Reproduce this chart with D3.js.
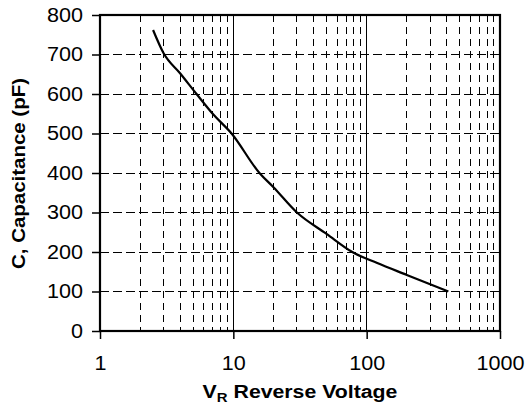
<!DOCTYPE html>
<html><head><meta charset="utf-8">
<script src="https://cdn.jsdelivr.net/npm/d3@7"></script>
<style>
html,body{margin:0;padding:0;background:#fff;}
svg text{font-family:"Liberation Sans",Arial,sans-serif;fill:#000;}
</style></head>
<body><svg id="c" width="527" height="406"></svg>
<script>
const voltage = [2.5, 3, 4, 5.3, 7, 9.7, 15.7, 20, 30, 50, 78, 120, 200, 410];
const capacitance = [762, 703, 652, 600, 550, 500, 400, 364, 300, 246, 200, 172, 142, 100];
const xTicks = [1, 10, 100, 1000];
const yTicks = [0, 100, 200, 300, 400, 500, 600, 700, 800];
const xTitle = "Reverse Voltage";
const yTitle = "C, Capacitance (pF)";

const L = 100, R = 500, T = 15, B = 331;
const svg = d3.select("#c");
const x = d3.scaleLog().domain([1, 1000]).range([L, R]);
const y = d3.scaleLinear().domain([0, 800]).range([B, T]);

// minor vertical dashed gridlines
const minors = [];
[1, 10, 100].forEach(d => { for (let k = 2; k <= 9; k++) minors.push(d * k); });
svg.append("g").selectAll("line").data(minors).join("line")
  .attr("x1", d => x(d)).attr("x2", d => x(d)).attr("y1", T).attr("y2", B)
  .attr("stroke", "#000").attr("stroke-width", 1).attr("stroke-dasharray", "7,5")
  .attr("shape-rendering", "crispEdges");
// major vertical solid gridlines
svg.append("g").selectAll("line").data([10, 100]).join("line")
  .attr("x1", d => x(d)).attr("x2", d => x(d)).attr("y1", T).attr("y2", B)
  .attr("stroke", "#000").attr("stroke-width", 1).attr("shape-rendering", "crispEdges");
// horizontal dashed gridlines
svg.append("g").selectAll("line").data(yTicks.filter(d => d > 0 && d < 800)).join("line")
  .attr("x1", L).attr("x2", R).attr("y1", d => y(d)).attr("y2", d => y(d))
  .attr("stroke", "#000").attr("stroke-width", 1).attr("stroke-dasharray", "9,4")
  .attr("shape-rendering", "crispEdges");

// axes
const yAxis = d3.axisLeft(y).tickValues(yTicks).tickSize(8).tickPadding(9).tickFormat(d3.format("d"));
const gy = svg.append("g").attr("transform", `translate(${L},0)`).call(yAxis);
gy.select(".domain").remove();
gy.selectAll("line").attr("stroke", "#000").attr("stroke-width", 1.5);
gy.selectAll("text").attr("font-size", "19.5px").attr("dy", "0.33em")
  .attr("textLength", d => String(d).length * 12).attr("lengthAdjust", "spacingAndGlyphs");

const xAxis = d3.axisBottom(x).tickValues(xTicks).tickSize(8).tickPadding(17).tickFormat(d3.format("d"));
const gx = svg.append("g").attr("transform", `translate(0,${B})`).call(xAxis);
gx.select(".domain").remove();
gx.selectAll("line").attr("stroke", "#000").attr("stroke-width", 1.5);
gx.selectAll("text").attr("font-size", "19.5px")
  .attr("textLength", d => String(d).length * 12).attr("lengthAdjust", "spacingAndGlyphs");

// frame
svg.append("rect").attr("x", L).attr("y", T).attr("width", R - L).attr("height", B - T)
  .attr("fill", "none").attr("stroke", "#000").attr("stroke-width", 2.2);

// curve
const pts = voltage.map((v, i) => [v, capacitance[i]]);
svg.append("path").datum(pts)
  .attr("d", d3.line().x(d => x(d[0])).y(d => y(d[1])).curve(d3.curveMonotoneX))
  .attr("fill", "none").attr("stroke", "#000").attr("stroke-width", 2.2);

// titles
const xt = svg.append("text").attr("transform", "translate(300,398) scale(1.15,1)")
  .attr("text-anchor", "middle")
  .attr("font-size", "18.5px").attr("font-weight", "bold");
xt.append("tspan").text("V");
xt.append("tspan").attr("font-size", "13px").attr("dy", "4").text("R");
xt.append("tspan").attr("dy", "-4").text(" " + xTitle);

svg.append("text").attr("transform", "translate(25,173.5) rotate(-90)")
  .attr("text-anchor", "middle").attr("font-size", "17.5px").attr("font-weight", "bold")
  .attr("textLength", 191).attr("lengthAdjust", "spacingAndGlyphs")
  .text(yTitle);
</script></body></html>
